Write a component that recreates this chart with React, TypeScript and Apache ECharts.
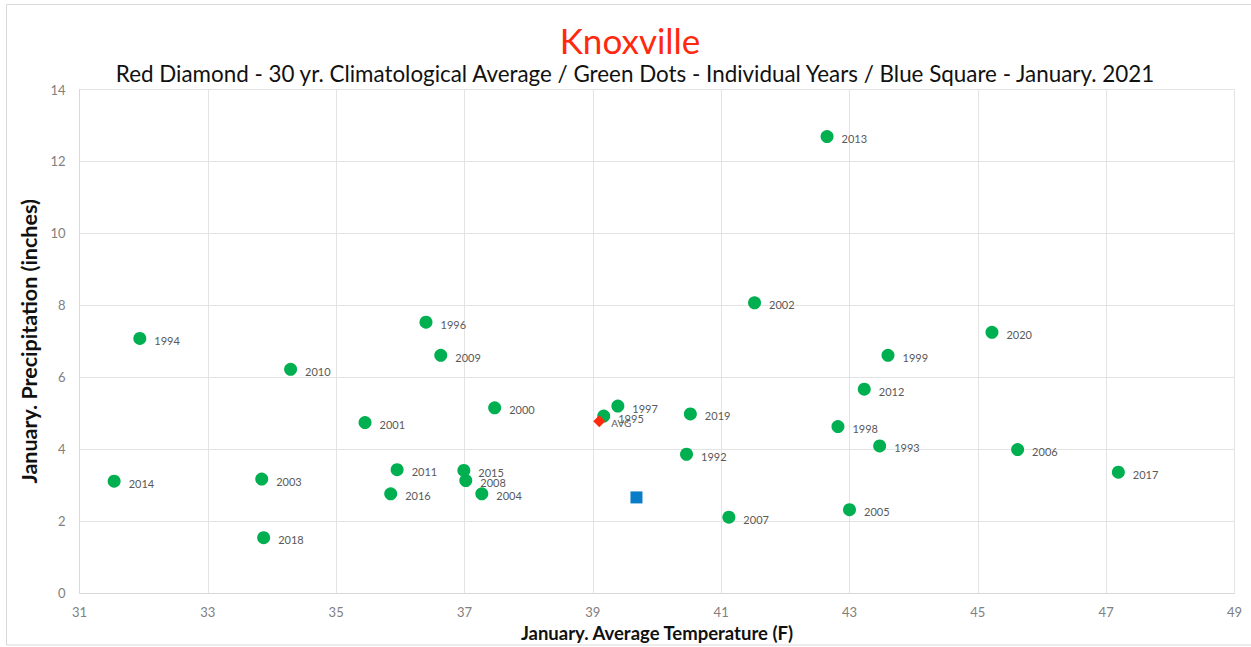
import React, { useEffect, useRef } from "react";
import * as echarts from "echarts";

const years = [
  "1992", "1993", "1994", "1995", "1996", "1997", "1998", "1999", "2000", "2001",
  "2002", "2003", "2004", "2005", "2006", "2007", "2008", "2009", "2010", "2011",
  "2012", "2013", "2014", "2015", "2016", "2017", "2018", "2019", "2020",
];
const temps = [
  40.46, 43.47, 31.94, 39.17, 36.4, 39.39, 42.82, 43.6, 37.47, 35.45,
  41.52, 33.84, 37.27, 43.0, 45.62, 41.12, 37.02, 36.63, 34.29, 35.95,
  43.23, 42.65, 31.54, 36.99, 35.85, 47.19, 33.87, 40.52, 45.22,
];
const precip = [
  3.86, 4.09, 7.08, 4.92, 7.53, 5.2, 4.63, 6.61, 5.15, 4.74,
  8.07, 3.17, 2.76, 2.32, 3.99, 2.11, 3.13, 6.61, 6.22, 3.43,
  5.67, 12.69, 3.11, 3.41, 2.76, 3.36, 1.54, 4.98, 7.25,
];
const avgTemp = [39.1];
const avgPrecip = [4.78];
const avgLabel = ["AVG"];
const currentTemp = [39.68];
const currentPrecip = [2.66];

const xTicks = { min: 31, max: 49, interval: 2 };
const yTicks = { min: 0, max: 14, interval: 2 };

const titleText = "Knoxville";
const subtitleText =
  "Red Diamond - 30 yr. Climatological Average / Green Dots - Individual Years / Blue Square - January. 2021";
const xName = "January. Average Temperature (F)";
const yName = "January. Precipitation (inches)";

const FONT = "Lato, 'Open Sans', sans-serif";

export default function App() {
  const ref = useRef<HTMLDivElement>(null);

  useEffect(() => {
    if (!ref.current) return;
    const chart = echarts.init(ref.current, undefined, { renderer: "svg" });

    const yearData = years.map((y, i) => ({ value: [temps[i], precip[i]], name: y }));
    const avgData = avgLabel.map((n, i) => ({ value: [avgTemp[i], avgPrecip[i]], name: n }));
    const curData = currentTemp.map((t, i) => ({ value: [t, currentPrecip[i]], name: "2021" }));

    chart.setOption({
      animation: false,
      backgroundColor: "#ffffff",
      textStyle: { fontFamily: FONT },
      title: [
        {
          text: titleText,
          left: 630,
          top: 22,
          textAlign: "center",
          padding: 0,
          textStyle: { color: "#FF2A0E", fontSize: 35, fontWeight: "normal", fontFamily: FONT },
        },
        {
          text: subtitleText,
          left: 635,
          top: 62,
          textAlign: "center",
          padding: 0,
          textStyle: { color: "#111111", fontSize: 22.4, fontWeight: "normal", fontFamily: FONT },
        },
      ],
      graphic: [
        {
          type: "rect",
          shape: { x: 6.5, y: 4.5, width: 1250, height: 640.5 },
          style: { fill: "none", stroke: "#d9d9d9", lineWidth: 1 },
          silent: true,
          z: -10,
        },
      ],
      grid: { left: 79.5, top: 89.5, width: 1155, height: 504, containLabel: false },
      xAxis: {
        type: "value",
        min: xTicks.min,
        max: xTicks.max,
        interval: xTicks.interval,
        name: xName,
        nameLocation: "middle",
        nameGap: 29,
        nameTextStyle: { color: "#111111", fontSize: 18.5, fontWeight: "bold", fontFamily: FONT },
        axisLine: { show: true, lineStyle: { color: "#d9d9d9", width: 1 } },
        axisTick: { show: false },
        axisLabel: { color: "#808080", fontSize: 13, margin: 12, fontFamily: FONT },
        splitLine: { show: true, lineStyle: { color: "#e3e3e3", width: 1 } },
      },
      yAxis: {
        type: "value",
        min: yTicks.min,
        max: yTicks.max,
        interval: yTicks.interval,
        name: yName,
        nameLocation: "middle",
        nameGap: 16,
        nameTextStyle: { color: "#111111", fontSize: 21.5, fontWeight: "bold", fontFamily: FONT },
        axisLine: { show: true, lineStyle: { color: "#d9d9d9", width: 1 } },
        axisTick: { show: false },
        axisLabel: { color: "#808080", fontSize: 13, margin: 14, fontFamily: FONT },
        splitLine: { show: true, lineStyle: { color: "#e3e3e3", width: 1 } },
      },
      series: [
        {
          type: "scatter",
          name: "Individual Years",
          data: yearData,
          symbol: "circle",
          symbolSize: 13,
          itemStyle: { color: "#00B050", opacity: 1 },
          label: {
            show: true,
            position: "right",
            distance: 8,
            offset: [0, 2],
            formatter: (p: any) => p.name,
            color: "#595959",
            fontSize: 11,
            fontFamily: FONT,
          },
        },
        {
          type: "scatter",
          name: "30 yr. Average",
          data: avgData,
          symbol: "diamond",
          symbolSize: 12,
          itemStyle: { color: "#FF2A0E", opacity: 1 },
          z: 3,
          label: {
            show: true,
            position: "right",
            distance: 6,
            offset: [0, 2],
            formatter: (p: any) => p.name,
            color: "#595959",
            fontSize: 10,
            fontFamily: FONT,
          },
        },
        {
          type: "scatter",
          name: "January 2021",
          data: curData,
          symbol: "rect",
          symbolSize: 12,
          itemStyle: { color: "#0A7DC8", opacity: 1 },
          z: 3,
          label: { show: false },
        },
      ],
    });

    return () => chart.dispose();
  }, []);

  return (
    <div
      ref={ref}
      style={{ position: "absolute", left: 0, top: 0, width: 1251, height: 647 }}
    />
  );
}
